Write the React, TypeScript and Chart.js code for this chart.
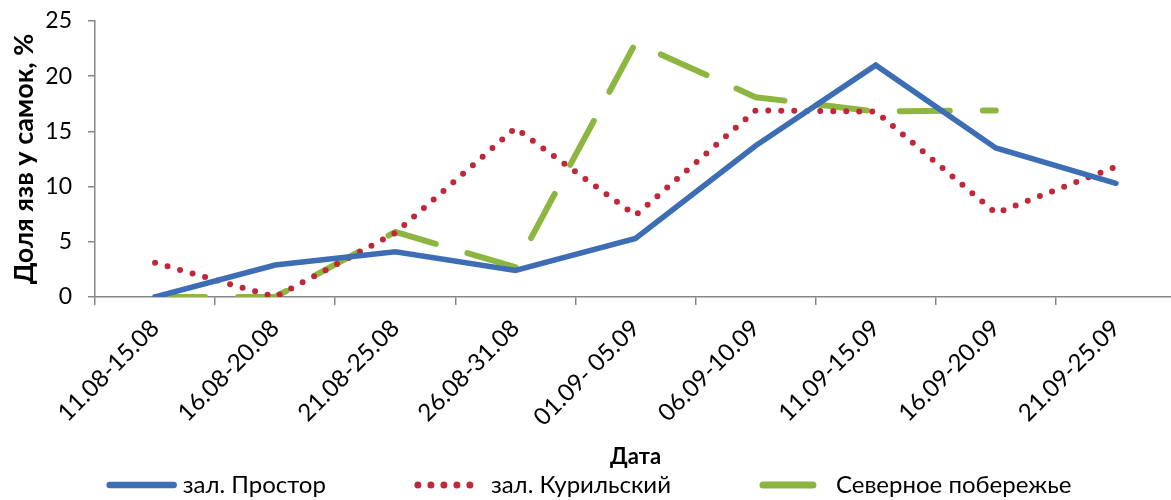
import React, { useEffect, useRef } from "react";
import { Chart, registerables } from "chart.js";

Chart.register(...registerables);

const categories = [
  "11.08-15.08",
  "16.08-20.08",
  "21.08-25.08",
  "26.08-31.08",
  "01.09- 05.09",
  "06.09-10.09",
  "11.09-15.09",
  "16.09-20.09",
  "21.09-25.09",
];
const prostor = [0, 2.9, 4.1, 2.4, 5.3, 13.7, 21.0, 13.5, 10.3];
const kurilsky = [3.1, 0, 5.8, 15.3, 7.4, 16.9, 16.8, 7.6, 11.8];
const north = [0, 0, 5.9, 2.7, 23.0, 18.1, 16.8, 16.9, null];
const seriesNames = ["зал. Простор", "зал. Курильский", "Северное побережье"];
const yMin = 0;
const yMax = 25;
const yStep = 5;
const yTitle = "Доля язв у самок, %";
const xTitle = "Дата";

const FONT = "Lato, 'Noto Sans', sans-serif";
const AXIS = "#868686";

export default function App() {
  const ref = useRef<HTMLCanvasElement>(null);

  useEffect(() => {
    document.body.style.margin = "0";
    const legendPlugin = {
      id: "bottomLegend",
      afterDraw(chart: any) {
        const ctx = chart.ctx as CanvasRenderingContext2D;
        ctx.save();
        ctx.font = `24px ${FONT}`;
        const sampleLen = 72;
        const textGap = 5;
        const itemGap = 88;
        const items = chart.data.datasets.map((ds: any) => ({
          ds,
          w: ctx.measureText(ds.label).width,
        }));
        const total =
          items.reduce((s: number, it: any) => s + sampleLen + textGap + it.w, 0) +
          itemGap * (items.length - 1);
        let x = chart.width / 2 - total / 2 - 4;
        const y = 485;
        items.forEach(({ ds, w }: any) => {
          ctx.beginPath();
          ctx.strokeStyle = ds.borderColor;
          ctx.lineWidth = ds.borderWidth + 1;
          ctx.lineCap = ds.borderCapStyle || "round";
          ctx.setLineDash(ds.borderDash || []);
          ctx.moveTo(x + 4, y);
          ctx.lineTo(x + sampleLen - 4, y);
          ctx.stroke();
          ctx.setLineDash([]);
          ctx.fillStyle = "#000";
          ctx.textAlign = "left";
          ctx.textBaseline = "middle";
          ctx.fillText(ds.label, x + sampleLen + textGap, y);
          x += sampleLen + textGap + w + itemGap;
        });
        ctx.restore();
      },
    };

    const chart = new Chart(ref.current!, {
      type: "line",
      data: {
        labels: categories,
        datasets: [
          {
            label: seriesNames[0],
            data: prostor,
            borderColor: "#3D6DB5",
            backgroundColor: "#3D6DB5",
            borderWidth: 5.5,
            borderCapStyle: "round",
            borderJoinStyle: "miter",
            pointRadius: 0,
            tension: 0,
          },
          {
            label: seriesNames[1],
            data: kurilsky,
            borderColor: "#C0283A",
            backgroundColor: "#C0283A",
            borderWidth: 6,
            borderDash: [0, 13],
            borderCapStyle: "round",
            borderJoinStyle: "round",
            pointRadius: 0,
            tension: 0,
          },
          {
            label: seriesNames[2],
            data: north,
            borderColor: "#8DB640",
            backgroundColor: "#8DB640",
            borderWidth: 6,
            borderDash: [50, 33],
            borderCapStyle: "round",
            borderJoinStyle: "round",
            pointRadius: 0,
            tension: 0,
            spanGaps: false,
          },
        ],
      },
      options: {
        responsive: false,
        animation: false,
        devicePixelRatio: 1,
        layout: { padding: { top: 21, right: 9, bottom: 30, left: 0 } },
        plugins: {
          legend: { display: false },
          tooltip: { enabled: false },
        },
        font: { family: FONT },
        scales: {
          x: {
            type: "category",
            offset: true,
            grid: {
              display: true,
              offset: true,
              drawOnChartArea: false,
              drawTicks: true,
              tickLength: 8,
              color: AXIS,
              lineWidth: 1.5,
            },
            border: { display: true, color: AXIS, width: 1.5 },
            ticks: {
              minRotation: 45,
              maxRotation: 45,
              autoSkip: false,
              padding: 9,
              color: "#000",
              font: { family: FONT, size: 24 },
            },
            title: {
              display: true,
              text: xTitle,
              color: "#000",
              font: { family: FONT, size: 22, weight: "bold" },
              padding: { top: 0, bottom: 0 },
            },
            afterFit(scale: any) {
              scale.height = 173;
              scale.paddingLeft = 0;
              scale.paddingRight = 0;
            },
          },
          y: {
            min: yMin,
            max: yMax,
            ticks: {
              stepSize: yStep,
              padding: 16,
              color: "#000",
              font: { family: FONT, size: 23 },
            },
            grid: {
              display: true,
              drawOnChartArea: false,
              drawTicks: true,
              tickLength: 7,
              color: AXIS,
              lineWidth: 1.5,
            },
            border: { display: true, color: AXIS, width: 1.5 },
            title: {
              display: true,
              text: yTitle,
              color: "#000",
              font: { family: FONT, size: 27, weight: "bold" },
              padding: { top: 8, bottom: 0 },
            },
            afterFit(scale: any) {
              scale.width = 95;
              scale.paddingTop = 0;
              scale.paddingBottom = 0;
            },
          },
        },
      } as any,
      plugins: [legendPlugin],
    });
    return () => chart.destroy();
  }, []);

  return (
    <div style={{ width: 1171, height: 500, overflow: "hidden", position: "relative", background: "#fff" }}>
      <canvas ref={ref} width={1185} height={500} style={{ display: "block" }} />
    </div>
  );
}
